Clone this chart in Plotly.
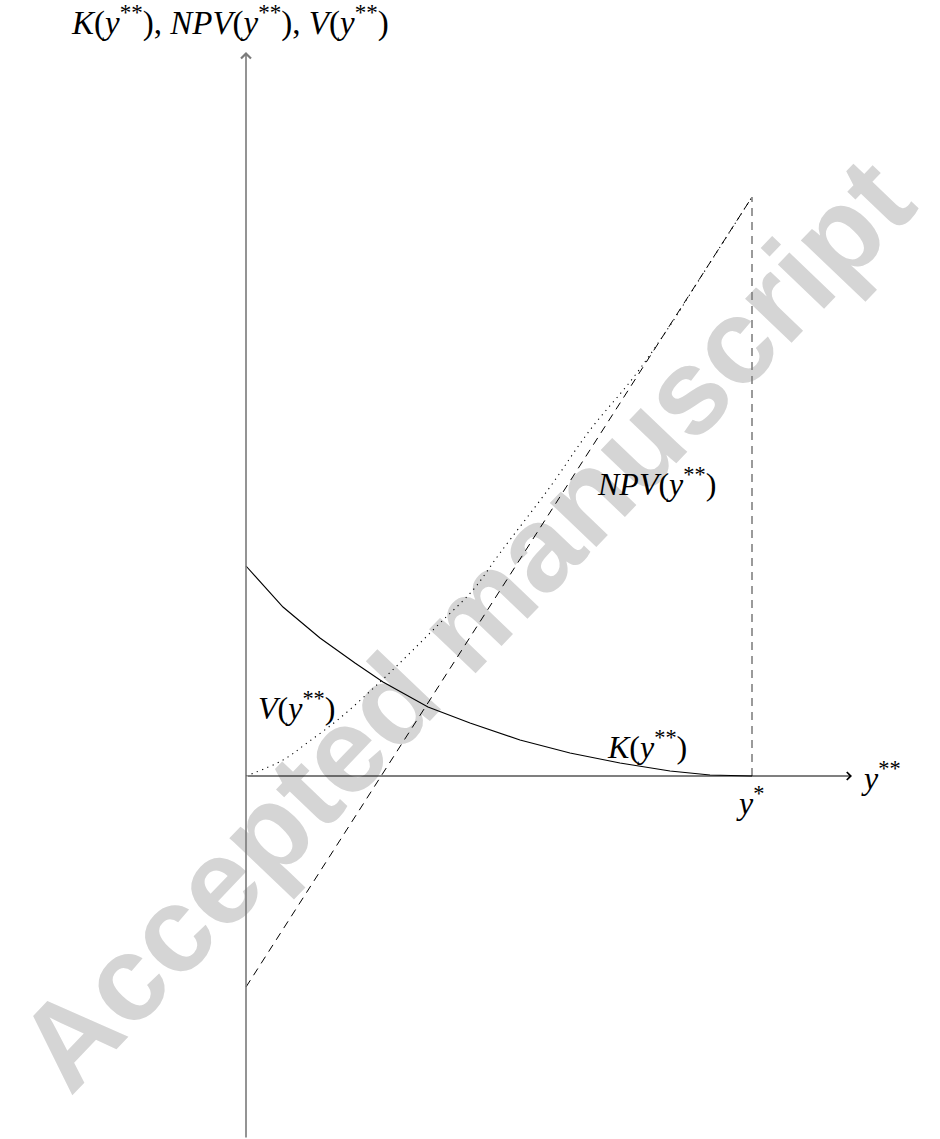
import plotly.graph_objects as go

# Threshold y* on the horizontal axis
y_star = 5.06

# K(y**): solid, decreasing to zero at y*
k_x = [0, 0.37, 0.74, 1.09, 1.37, 1.82, 2.24, 2.74, 3.24, 3.74, 4.24, 4.64, 5.06]
k_y = [2.10, 1.69, 1.38, 1.13, 0.94, 0.69, 0.53, 0.36, 0.23, 0.13, 0.05, 0.01, 0.0]

# NPV(y**): straight dashed line
npv_x = [0, 5.06]
npv_y = [-2.11, 5.79]

# V(y**): dotted, convex, meeting NPV at y*
v_x = [0, 0.37, 0.61, 0.94, 1.34, 1.64, 1.94, 2.27, 2.54, 3.04, 3.44, 3.87, 4.21, 4.60, 5.06]
v_y = [0, 0.16, 0.33, 0.58, 0.94, 1.23, 1.53, 1.86, 2.23, 2.89, 3.46, 3.98, 4.46, 5.07, 5.79]

SERIF = "Liberation Serif"
W, H = 940, 1139
X0_PX, Y0_PX, UNIT = 246, 776, 100.0

x_range = [-X0_PX / UNIT, (W - X0_PX) / UNIT]
y_range = [(Y0_PX - H) / UNIT, Y0_PX / UNIT]

fig = go.Figure()

# vertical dashed marker at y*
fig.add_trace(go.Scatter(x=[y_star, y_star], y=[0, npv_y[-1]], mode="lines",
                         line=dict(color="#7a7a7a", width=1.5, dash="8px,6px"),
                         hoverinfo="skip"))
fig.add_trace(go.Scatter(x=npv_x, y=npv_y, mode="lines",
                         line=dict(color="black", width=1, dash="8px,6px"),
                         hoverinfo="skip"))
fig.add_trace(go.Scatter(x=v_x, y=v_y, mode="lines", line_shape="spline",
                         line=dict(color="black", width=1.1, dash="1.2px,4.5px"),
                         hoverinfo="skip"))
fig.add_trace(go.Scatter(x=k_x, y=k_y, mode="lines",
                         line=dict(color="black", width=1.1),
                         hoverinfo="skip"))

# watermark behind the drawing
fig.add_shape(type="line", layer="below",
              x0=-0.64, y0=-1.30, x1=4.86, y1=4.50,
              line=dict(color="rgba(0,0,0,0)", width=0),
              label=dict(text="Accepted manuscript", textposition="middle",
                         textangle=-46.3, yanchor="middle",
                         font=dict(family="Liberation Sans", size=121,
                                   color="rgb(213,213,213)", weight="bold")))

# axes with open arrow heads
fig.add_annotation(x=6.06, y=0, ax=0, ay=0, xref="x", yref="y", axref="x", ayref="y",
                   text="", showarrow=True, arrowhead=4, arrowsize=1.4,
                   arrowwidth=1.1, arrowcolor="black")
fig.add_annotation(x=0, y=7.24, ax=0, ay=(Y0_PX - 1139) / UNIT, xref="x", yref="y",
                   axref="x", ayref="y", text="", showarrow=True, arrowhead=4,
                   arrowsize=1.2, arrowwidth=1.6, arrowcolor="#7a7a7a")

def label(text, x, y, size=32, xanchor="center", yanchor="middle"):
    fig.add_annotation(x=x, y=y, xref="x", yref="y", text=text, showarrow=False,
                       xanchor=xanchor, yanchor=yanchor,
                       font=dict(family=SERIF, size=size, color="black"))

label("<i>K</i>(<i>y</i><sup>**</sup>), <i>NPV</i>(<i>y</i><sup>**</sup>), "
      "<i>V</i>(<i>y</i><sup>**</sup>)", -0.16, 7.56, size=33)
label("<i>V</i>(<i>y</i><sup>**</sup>)", 0.50, 0.70)
label("<i>NPV</i>(<i>y</i><sup>**</sup>)", 4.10, 2.94)
label("<i>K</i>(<i>y</i><sup>**</sup>)", 4.01, 0.31)
label("<i>y</i><sup>*</sup>", 5.04, -0.25)
label("<i>y</i><sup>**</sup>", 6.35, 0.0)

fig.update_layout(
    width=W, height=H, margin=dict(l=0, r=0, t=0, b=0),
    paper_bgcolor="white", plot_bgcolor="white", showlegend=False,
    xaxis=dict(range=x_range, visible=False, fixedrange=True),
    yaxis=dict(range=y_range, visible=False, fixedrange=True),
)

fig.write_html("out.html")
